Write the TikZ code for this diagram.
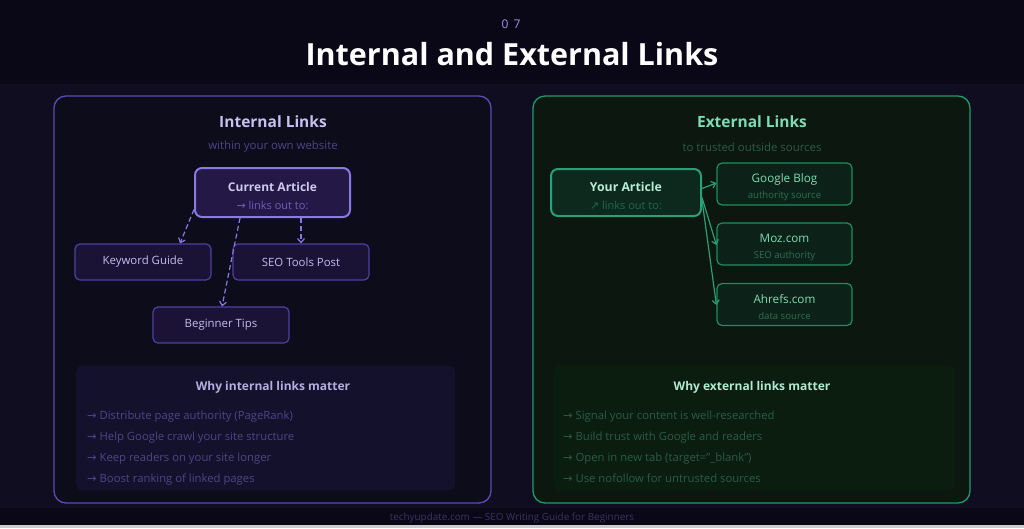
\documentclass[tikz,border=0pt]{standalone}
\usepackage{fontspec}
\setmainfont{Open Sans}
\newfontfamily\arrowfont{DejaVu Sans}
\usepackage{xcolor}
\definecolor{bgTop}{HTML}{0A0816}
\definecolor{bgMid}{HTML}{100D20}
\definecolor{panelInFill}{HTML}{0C0C1B}
\definecolor{panelInLine}{HTML}{5B4BB5}
\definecolor{panelExFill}{HTML}{0B170F}
\definecolor{panelExLine}{HTML}{1E9C6E}
\definecolor{curFill}{HTML}{231846}
\definecolor{curLine}{HTML}{8A78E6}
\definecolor{intFill}{HTML}{1B1336}
\definecolor{intLine}{HTML}{4F3FA3}
\definecolor{intText}{HTML}{C4BCEC}
\definecolor{intSub}{HTML}{4E4488}
\definecolor{intHead}{HTML}{C8C0F0}
\definecolor{infoInFill}{HTML}{14112C}
\definecolor{yourFill}{HTML}{0D281C}
\definecolor{yourLine}{HTML}{28A078}
\definecolor{extFill}{HTML}{0C2218}
\definecolor{extLine}{HTML}{1E8C64}
\definecolor{extText}{HTML}{7EDCB4}
\definecolor{extSub}{HTML}{2A5C46}
\definecolor{extNote}{HTML}{2F6E54}
\definecolor{infoExFill}{HTML}{0B1D0F}
\usepackage{tikz}
\usetikzlibrary{arrows.meta,positioning,calc}

\newcommand{\ra}{{\arrowfont\char"2192}}
\newcommand{\nea}{{\arrowfont\char"2197}}
\newcommand{\toppad}[1]{\rule{0pt}{#1}}

\begin{document}
\begin{tikzpicture}[x=1pt,y=-1pt,>={Straight Barb[length=4pt,width=7pt]},
  panel/.style={rounded corners=12pt,line width=1.3pt},
  intbox/.style={draw=intLine,fill=intFill,rounded corners=5pt,line width=1.2pt,
    minimum width=136pt,minimum height=36pt,text=intText,font=\fontsize{11.4}{13}\selectfont},
  extbox/.style={draw=extLine,fill=extFill,rounded corners=5pt,line width=1.2pt,
    minimum width=135pt,minimum height=42pt,align=center,inner sep=0pt},
  intlink/.style={->,draw=curLine,dashed,dash pattern=on 5pt off 3pt,line width=1.2pt},
  extlink/.style={->,draw=yourLine,line width=1.2pt},
  item/.style={anchor=base west,font=\fontsize{11.3}{13}\selectfont,inner sep=0pt}]
  \useasboundingbox (0,0) rectangle (1024,528);
  % background bands
  \fill[bgMid] (0,0) rectangle (1024,528);
  \fill[bgTop] (0,0) rectangle (1024,84);
  \fill[bgTop] (0,508) rectangle (1024,528);
  \fill[black!20] (0,525) rectangle (1024,528);
  % header
  \node[text=curLine!80,font=\fontsize{12}{14}\selectfont] (num) at (511,24) {0\hspace{5pt}7};
  \node[text=white,font=\fontsize{30.5}{34}\selectfont\bfseries] (title) at (512,54) {Internal and External Links};
  % panels
  \draw[panel,draw=panelInLine,fill=panelInFill] (54,96) rectangle (491,503);
  \draw[panel,draw=panelExLine,fill=panelExFill] (533,96) rectangle (970,503);
  % internal side
  \node[text=intHead,font=\fontsize{15.5}{18}\selectfont\bfseries] (inthead) at (273,122) {Internal Links};
  \node[text=intSub,font=\fontsize{11.4}{13}\selectfont] (intsub) at (273,147) {within your own website};
  \node[draw=curLine,fill=curFill,rounded corners=7pt,line width=2pt,minimum width=155pt,
    minimum height=49pt,align=center,inner sep=0pt] (cur) at (272.5,192.5)
    {\textcolor{intText!80!white}{\fontsize{12}{14}\selectfont\bfseries\toppad{17pt}Current Article}\\[6pt]
     \textcolor{curLine!75!intFill}{\fontsize{11}{12}\selectfont\ra\ links out to:}};
  \node[intbox] (kw) at (143,262) {Keyword Guide};
  \node[intbox] (seo) at (301,262) {SEO Tools Post};
  \node[intbox] (tips) at (221,325) {Beginner Tips};
  \draw[intlink] ([yshift=-17pt]cur.west) -- ([xshift=37pt]kw.north);
  \draw[intlink] ([xshift=-32.5pt]cur.south) -- ([xshift=1pt]tips.north);
  \draw[intlink] ([xshift=28.5pt]cur.south) -- (seo.north);
  % why internal
  \fill[infoInFill,rounded corners=6pt] (76,366) rectangle (455,490);
  \node[text=intHead!85!intSub,font=\fontsize{12}{14}\selectfont\bfseries] (inwhy) at (273,387) {Why internal links matter};
  \node[item,text=intSub] (in1) at (87,419) {\ra\ Distribute page authority (PageRank)};
  \node[item,text=intSub] (in2) at (87,440) {\ra\ Help Google crawl your site structure};
  \node[item,text=intSub] (in3) at (87,461) {\ra\ Keep readers on your site longer};
  \node[item,text=intSub] (in4) at (87,482) {\ra\ Boost ranking of linked pages};
  % external side
  \node[text=extText,font=\fontsize{15.5}{18}\selectfont\bfseries] (exthead) at (752,122) {External Links};
  \node[text=extSub,font=\fontsize{11.4}{13}\selectfont] (extsub) at (752,147) {to trusted outside sources};
  \node[draw=yourLine,fill=yourFill,rounded corners=7pt,line width=2pt,minimum width=150pt,
    minimum height=47pt,align=center,inner sep=0pt] (your) at (626,192.5)
    {\textcolor{extText!55!white}{\fontsize{12.3}{14}\selectfont\bfseries\toppad{17pt}Your Article}\\[6pt]
     \textcolor{yourLine!55!yourFill}{\fontsize{11}{12}\selectfont\nea\ links out to:}};
  \node[extbox] (gb) at (784.5,184)
    {\textcolor{extText}{\fontsize{11.7}{13}\selectfont\toppad{15pt}Google Blog}\\[4pt]
     \textcolor{extNote}{\fontsize{9.6}{11}\selectfont authority source}};
  \node[extbox] (moz) at (784.5,244)
    {\textcolor{extText}{\fontsize{11.7}{13}\selectfont\toppad{15pt}Moz.com}\\[4pt]
     \textcolor{extNote}{\fontsize{9.6}{11}\selectfont SEO authority}};
  \node[extbox] (ahr) at (784.5,304.5)
    {\textcolor{extText}{\fontsize{11.7}{13}\selectfont\toppad{15pt}Ahrefs.com}\\[4pt]
     \textcolor{extNote}{\fontsize{9.6}{11}\selectfont data source}};
  \draw[extlink] ([yshift=4pt]your.east) -- ([yshift=1pt]gb.west);
  \draw[extlink] ([yshift=-5pt]your.east) -- ([yshift=-1pt]moz.west);
  \draw[extlink] ([yshift=-7.5pt]your.east) -- ([yshift=-0.5pt]ahr.west);
  % why external
  \fill[infoExFill,rounded corners=6pt] (553,366) rectangle (955,490);
  \node[text=extText!60!white,font=\fontsize{12}{14}\selectfont\bfseries] (exwhy) at (752,387) {Why external links matter};
  \node[item,text=extSub] (ex1) at (563,419) {\ra\ Signal your content is well-researched};
  \node[item,text=extSub] (ex2) at (563,440) {\ra\ Build trust with Google and readers};
  \node[item,text=extSub] (ex3) at (563,461) {\ra\ Open in new tab (target="\_blank")};
  \node[item,text=extSub] (ex4) at (563,482) {\ra\ Use nofollow for untrusted sources};
  % footer
  \node[text=intSub!70!bgTop,font=\fontsize{9.9}{11}\selectfont] (foot) at (512,518) {techyupdate.com --- SEO Writing Guide for Beginners};
\end{tikzpicture}
\end{document}
